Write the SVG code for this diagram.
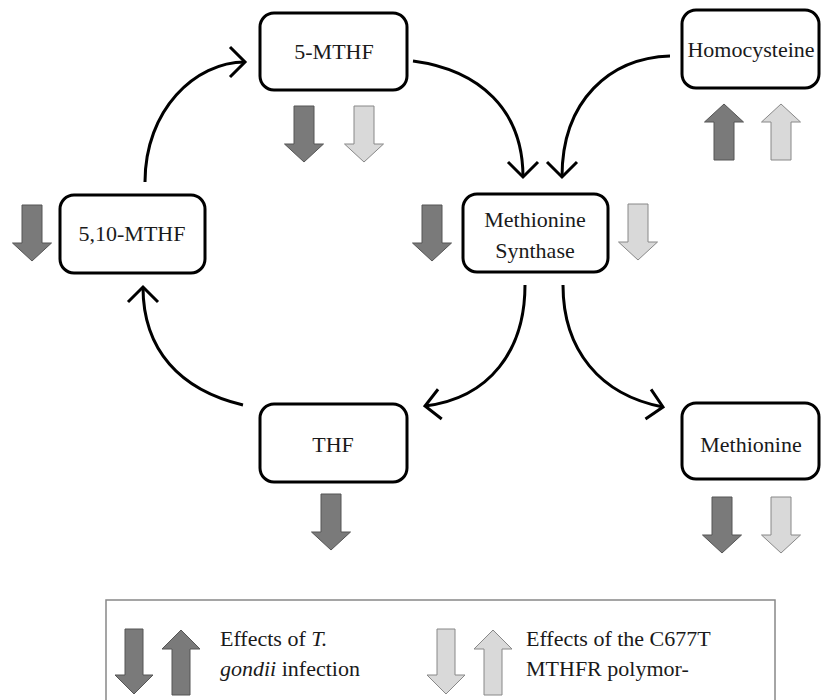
<svg xmlns="http://www.w3.org/2000/svg" width="821" height="700" viewBox="0 0 821 700">
<style>
.node rect{fill:#fff;stroke:#000;stroke-width:3}
text{font-family:"Liberation Serif","DejaVu Serif",serif;font-size:22px;fill:#1a1a1a}
.node text{text-anchor:middle}
.conn path{fill:none;stroke:#000;stroke-width:3}
.dark{fill:#7a7a7a;stroke:#555;stroke-width:1}
.light{fill:#d9d9d9;stroke:#888;stroke-width:1}
</style>
<defs>
<marker id="chev" markerUnits="userSpaceOnUse" markerWidth="40" markerHeight="40" viewBox="-20 -20 40 40" refX="0" refY="0" orient="auto" overflow="visible">
<path d="M-15,-15 L0,0 L-15,15" fill="none" stroke="#000" stroke-width="3"/>
</marker>
<path id="down" d="M-10,0 H10 V38 H19.5 L0,56 L-19.5,38 H-10 Z"/>
<path id="up" d="M-10,56 H10 V18 H19.5 L0,0 L-19.5,18 H-10 Z"/>
<path id="ldown" d="M-9,0 H9 V46 H19 L0,65 L-19,46 H-9 Z"/>
<path id="lup" d="M-9,65 H9 V19 H19 L0,0 L-19,19 H-9 Z"/>
</defs>
<rect width="821" height="700" fill="#fff"/>

<g id="connectors" class="conn">
<path d="M145,182 C145,110 195,62 245,62" marker-end="url(#chev)"/>
<path d="M243,405 C180,390 143,350 143,287" marker-end="url(#chev)"/>
<path d="M413,61 C480,70 523,110 523,177" marker-end="url(#chev)"/>
<path d="M670,56 C610,58 562,100 562,177" marker-end="url(#chev)"/>
<path d="M525,285 C525,350 490,398 425,406" marker-end="url(#chev)"/>
<path d="M563,285 C563,350 600,395 663,407" marker-end="url(#chev)"/>
</g>

<g id="n-5mthf" class="node">
<rect x="260" y="13" width="147" height="77" rx="14"/>
<text x="334" y="59">5-MTHF</text>
<use href="#down" x="304" y="106" class="dark"/>
<use href="#down" x="364" y="106" class="light"/>
</g>

<g id="n-homocysteine" class="node">
<rect x="682" y="10" width="137" height="78" rx="14"/>
<text x="751" y="57">Homocysteine</text>
<use href="#up" x="724" y="104" class="dark"/>
<use href="#up" x="781" y="104" class="light"/>
</g>

<g id="n-510mthf" class="node">
<rect x="60" y="195" width="145" height="78" rx="14"/>
<text x="132" y="241">5,10-MTHF</text>
<use href="#down" x="32" y="205" class="dark"/>
</g>

<g id="n-ms" class="node">
<rect x="463" y="194" width="145" height="78" rx="14"/>
<text x="535" y="227">Methionine</text>
<text x="535" y="258">Synthase</text>
<use href="#down" x="432" y="205" class="dark"/>
<use href="#down" x="638" y="204" class="light"/>
</g>

<g id="n-thf" class="node">
<rect x="260" y="404" width="147" height="78" rx="14"/>
<text x="333" y="452">THF</text>
<use href="#down" x="331" y="494" class="dark"/>
</g>

<g id="n-methionine" class="node">
<rect x="682" y="403" width="137" height="76" rx="14"/>
<text x="751" y="452">Methionine</text>
<use href="#down" x="722" y="497" class="dark"/>
<use href="#down" x="781" y="497" class="light"/>
</g>

<g id="legend">
<rect x="106" y="600" width="669" height="110" fill="#fff" stroke="#888" stroke-width="1.5"/>
<use href="#ldown" x="134" y="629" class="dark"/>
<use href="#lup" x="181" y="630" class="dark"/>
<text x="220" y="646">Effects of <tspan font-style="italic">T.</tspan></text>
<text x="220" y="676"><tspan font-style="italic">gondii</tspan> infection</text>
<use href="#ldown" x="446" y="629" class="light"/>
<use href="#lup" x="493" y="630" class="light"/>
<text x="526" y="646">Effects of the C677T</text>
<text x="526" y="676">MTHFR polymor-</text>
</g>
</svg>
